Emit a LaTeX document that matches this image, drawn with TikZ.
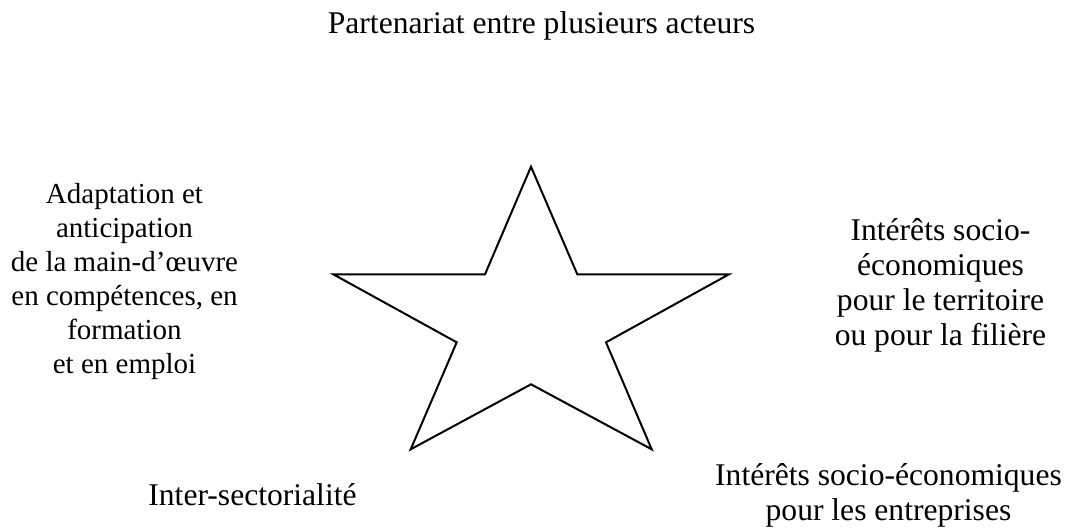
\documentclass[tikz,border=0pt]{standalone}
\usepackage{fontspec}
\setmainfont{Liberation Serif}
\begin{document}
\begin{tikzpicture}[x=1pt,y=-1pt,
  lbl/.style={inner sep=0pt, align=center, anchor=base, font=\fontsize{31.6}{35}\selectfont},
  lblsmall/.style={inner sep=0pt, align=center, anchor=base, font=\fontsize{29}{34}\selectfont},
  starline/.style={draw=black, line width=2pt, line join=miter}]
\useasboundingbox (0,0) rectangle (1065,531);
% star vertices
\coordinate (t) at (531,166.7);
\coordinate (iul) at (485,274.3);
\coordinate (l) at (333.3,274.3);
\coordinate (ill) at (456.7,342.3);
\coordinate (bl) at (410.7,449.3);
\coordinate (ib) at (531,384.3);
\coordinate (br) at (651.7,449.3);
\coordinate (ilr) at (606,342.3);
\coordinate (r) at (729,274.3);
\coordinate (iur) at (577.3,274.3);
\draw[starline] (t) -- (iul) -- (l) -- (ill) -- (bl) -- (ib) -- (br) -- (ilr) -- (r) -- (iur) -- cycle;
% labels (base anchor = baseline of the last line)
\node[lbl] (title) at (541.5,33.5) {Partenariat entre plusieurs acteurs};
\node[lblsmall] (left) at (124.5,373.3) {Adaptation et\\anticipation\\de la main-d’œuvre\\en compétences, en\\formation\\et en emploi};
\node[lbl] (right) at (940.5,345) {Intérêts socio-\\économiques\\pour le territoire\\ou pour la filière};
\node[lbl] (bleft) at (252.5,505) {Inter-sectorialité};
\node[lbl] (bright) at (888.5,520) {Intérêts socio-économiques\\pour les entreprises};
\end{tikzpicture}
\end{document}
